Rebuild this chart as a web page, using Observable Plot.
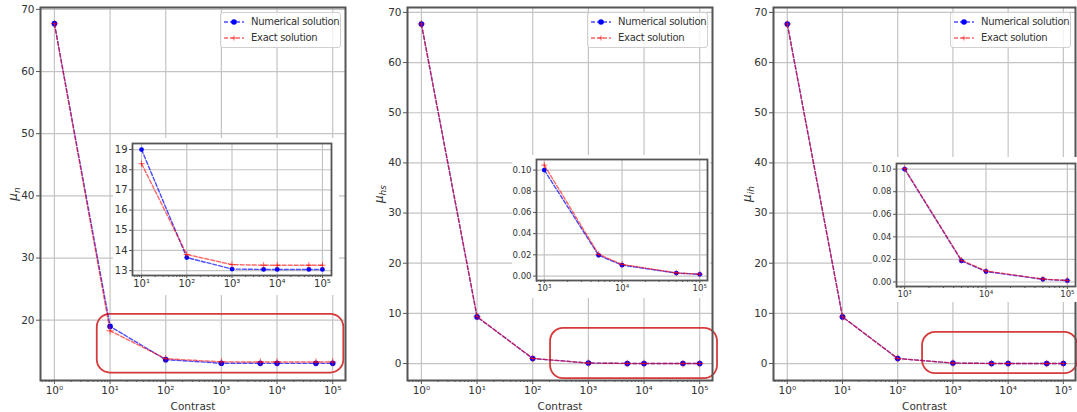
<!DOCTYPE html>
<html><head><meta charset="utf-8">
<script src="https://cdn.jsdelivr.net/npm/d3@7"></script>
<script src="https://cdn.jsdelivr.net/npm/@observablehq/plot@0.6"></script>
<style>
body{margin:0;background:#fff;}
#fig{position:relative;width:1077px;height:412px;overflow:hidden;background:#fff;font-family:"DejaVu Sans",sans-serif;}
#fig > div.p{position:absolute;}
#fig svg{overflow:visible;display:block;}
.legend{position:absolute;background:rgba(255,255,255,0.8);border:1px solid #d0d0d0;border-radius:3px;box-sizing:border-box;padding:1px 3px 1px 3px;font-size:10px;letter-spacing:-0.3px;color:#333;line-height:16px;white-space:nowrap;}
.legend .row{display:flex;align-items:center;}
.legend svg{margin-right:7px;}
</style></head><body><div id="fig"></div><script>
// ---- data ----
const contrast   = [1, 10, 100, 1000, 5000, 10000, 50000, 100000];
const muN_num    = [67.7, 19.0, 13.65, 13.08, 13.06, 13.06, 13.06, 13.06];
const muN_exact  = [67.7, 18.3, 13.8, 13.3, 13.27, 13.27, 13.27, 13.27];
const muHS_num   = [67.7, 9.3, 1.0, 0.100, 0.0196, 0.0103, 0.0028, 0.0016];
const muHS_exact = [67.7, 9.35, 1.02, 0.1047, 0.0205, 0.0110, 0.0030, 0.0018];
const muIH_num   = [67.7, 9.3, 1.0, 0.100, 0.0187, 0.0093, 0.0024, 0.0012];
const muIH_exact = [67.7, 9.3, 1.0, 0.1005, 0.0192, 0.0097, 0.0026, 0.0014];
const seriesNames = ["Numerical solution", "Exact solution"];
const yLabels = [["μ", "n"], ["μ", "hs"], ["μ", "ih"]];
const xLabel = "Contrast";
const mainXTicks = [1, 10, 100, 1000, 10000, 100000];
const mainYTicks1 = [20, 30, 40, 50, 60, 70];
const mainYTicks23 = [0, 10, 20, 30, 40, 50, 60, 70];
const inset1XTicks = [10, 100, 1000, 10000, 100000];
const inset1YTicks = [13, 14, 15, 16, 17, 18, 19];
const inset23XTicks = [1000, 10000, 100000];
const inset23YTicks = [0, 0.02, 0.04, 0.06, 0.08, 0.10];

// ---- helpers ----
const SUP = {"0":"⁰","1":"¹","2":"²","3":"³","4":"⁴","5":"⁵","6":"⁶","7":"⁷","8":"⁸","9":"⁹","-":"⁻"};
const supFmt = d => "10" + String(Math.round(Math.log10(d))).split("").map(c => SUP[c]).join("");
function minorTicks(lo, hi) {
  const out = [];
  for (let e = Math.floor(Math.log10(lo)); e <= Math.ceil(Math.log10(hi)); e++)
    for (let m = 2; m <= 9; m++) { const v = m * 10 ** e; if (v > lo && v < hi) out.push(v); }
  return out;
}
const BLUE = "#0000ff", RED = "#ff0000";
const GRID = "#c4c4c4", FRAME = "#555", TXT = "#333";
function rows(num, exact, from) {
  return contrast.map((c, i) => ({c, num: num[i], exact: exact[i]})).slice(from);
}
function seriesMarks(data, r) {
  return [
    Plot.line(data, {x: "c", y: "num", stroke: BLUE, strokeOpacity: 0.7, strokeWidth: 1.4, strokeDasharray: "4,2"}),
    Plot.dot(data, {x: "c", y: "num", fill: BLUE, r: r, stroke: null}),
    Plot.line(data, {x: "c", y: "exact", stroke: RED, strokeOpacity: 0.6, strokeWidth: 1.4, strokeDasharray: "4,2"}),
    Plot.dot(data, {x: "c", y: "exact", symbol: "plus", stroke: RED, strokeOpacity: 0.6, r: r * 0.9, strokeWidth: 1})
  ];
}

const fig = document.getElementById("fig");
function place(node, left, top) {
  const d = document.createElement("div");
  d.className = "p";
  d.style.left = left + "px"; d.style.top = top + "px";
  d.appendChild(node); fig.appendChild(d);
  return d;
}
function setYLabel(svg, parts) {
  const t = svg.querySelector('[aria-label="y-axis label"] text');
  if (!t) return;
  const sel = d3.select(t);
  sel.text(null).style("font-style", "italic").style("font-size", "12px");
  sel.append("tspan").text(parts[0]);
  sel.append("tspan").attr("dy", "0.3em").style("font-size", "9px").text(parts[1]);
}

function mainPanel(cfg) {
  const data = rows(cfg.num, cfg.exact, 0);
  const svg = Plot.plot({
    width: cfg.width, height: 412,
    marginLeft: cfg.ml, marginRight: cfg.mr, marginTop: 7, marginBottom: 32,
    style: {fontFamily: "DejaVu Sans", fontSize: "10.5px", color: TXT, background: "transparent", overflow: "visible"},
    x: {type: "log", domain: cfg.xdom},
    y: {domain: cfg.ydom},
    marks: [
      Plot.gridX(mainXTicks, {stroke: GRID, strokeOpacity: 1, strokeWidth: 1.2}),
      Plot.gridY(cfg.yticks, {stroke: GRID, strokeOpacity: 1, strokeWidth: 1.2}),
      Plot.axisX(minorTicks(cfg.xdom[0], cfg.xdom[1]), {tickSize: 2, text: null, label: null, stroke: FRAME}),
      Plot.axisX(mainXTicks, {tickSize: 4, tickPadding: 2, tickFormat: supFmt, stroke: FRAME, fill: TXT,
        label: xLabel, labelAnchor: "center", labelOffset: 29, labelArrow: "none"}),
      Plot.axisY(cfg.yticks, {tickSize: 4, tickPadding: 2, stroke: FRAME, fill: TXT,
        label: "μ", labelAnchor: "center", labelOffset: cfg.lo, labelArrow: "none"}),
      Plot.rect([cfg.box], {x1: "x1", x2: "x2", y1: "y1", y2: "y2", rx: 13, ry: 13,
        fill: "none", stroke: "#d63a3a", strokeWidth: 1.8, clip: false}),
      ...seriesMarks(data, 2.8),
      Plot.frame({stroke: FRAME, strokeWidth: 2})
    ]
  });
  setYLabel(svg, cfg.ylab);
  place(svg, cfg.left, 0);
  // legend
  const lg = document.createElement("div");
  lg.className = "legend";
  lg.style.left = (cfg.left + cfg.width - cfg.mr - 125) + "px";
  lg.style.top = "12px"; lg.style.width = "121px";
  seriesNames.forEach((name, i) => {
    const row = document.createElement("div"); row.className = "row";
    const s = d3.create("svg").attr("width", 20).attr("height", 10);
    const col = i === 0 ? BLUE : RED;
    s.append("line").attr("x1", 0).attr("x2", 20).attr("y1", 5).attr("y2", 5)
      .attr("stroke", col).attr("stroke-opacity", i === 0 ? 0.7 : 0.6).attr("stroke-width", 1.4).attr("stroke-dasharray", "4,2");
    if (i === 0) s.append("circle").attr("cx", 10).attr("cy", 5).attr("r", 2.8).attr("fill", BLUE);
    else s.append("path").attr("d", "M7.5,5H12.5M10,2.5V7.5").attr("stroke", RED).attr("stroke-opacity", 0.6);
    row.appendChild(s.node());
    const sp = document.createElement("span"); sp.textContent = name; row.appendChild(sp);
    lg.appendChild(row);
  });
  fig.appendChild(lg);
}

function insetPanel(cfg) {
  const data = rows(cfg.num, cfg.exact, cfg.from);
  const svg = Plot.plot({
    width: cfg.width, height: cfg.height,
    marginLeft: cfg.ml, marginRight: cfg.mr, marginTop: cfg.mt, marginBottom: cfg.mb,
    style: {fontFamily: "DejaVu Sans", fontSize: cfg.fs, color: TXT, background: "#fff", overflow: "visible"},
    x: {type: "log", domain: cfg.xdom},
    y: {domain: cfg.ydom},
    marks: [
      Plot.gridX(cfg.xticks, {stroke: GRID, strokeOpacity: 1, strokeWidth: 1.2}),
      Plot.gridY(cfg.yticks, {stroke: GRID, strokeOpacity: 1, strokeWidth: 1.2}),
      Plot.axisX(minorTicks(cfg.xdom[0], cfg.xdom[1]), {tickSize: 2, text: null, label: null, stroke: FRAME}),
      Plot.axisX(cfg.xticks, {tickSize: 3, tickPadding: 1, tickFormat: supFmt, stroke: FRAME, fill: TXT, label: null}),
      Plot.axisY(cfg.yticks, {tickSize: 3, tickPadding: 2, tickFormat: cfg.yfmt, stroke: FRAME, fill: TXT, label: null}),
      ...seriesMarks(data, 2.4),
      Plot.frame({stroke: FRAME, strokeWidth: 1.8})
    ]
  });
  place(svg, cfg.left, cfg.top);
}

// ---- panels ----
mainPanel({left: 0, width: 355, ml: 40, mr: 10, lo: 32,
  xdom: [10 ** -0.25, 10 ** 5.23], ydom: [10.3, 70.3], yticks: mainYTicks1,
  num: muN_num, exact: muN_exact, ylab: yLabels[0],
  box: {x1: 10 ** 0.77, x2: 10 ** 5.2, y1: 11.5, y2: 20.95}});
mainPanel({left: 360, width: 360, ml: 47, mr: 8, lo: 33,
  xdom: [10 ** -0.25, 10 ** 5.23], ydom: [-3.38, 70.98], yticks: mainYTicks23,
  num: muHS_num, exact: muHS_exact, ylab: yLabels[1],
  box: {x1: 10 ** 2.32, x2: 10 ** 5.32, y1: -3.0, y2: 7.0}});
mainPanel({left: 720, width: 357, ml: 53, mr: 2, lo: 31,
  xdom: [10 ** -0.25, 10 ** 5.22], ydom: [-3.38, 70.98], yticks: mainYTicks23,
  num: muIH_num, exact: muIH_exact, ylab: yLabels[2],
  box: {x1: 10 ** 2.45, x2: 10 ** 5.26, y1: -2.0, y2: 6.2}});

insetPanel({left: 113, top: 138, width: 226, height: 157, ml: 19, mr: 8, mt: 5, mb: 20, fs: "10px",
  xdom: [10 ** 0.8, 10 ** 5.2], ydom: [12.76, 19.3], xticks: inset1XTicks, yticks: inset1YTicks,
  yfmt: d3.format("d"), num: muN_num, exact: muN_exact, from: 1});
insetPanel({left: 512, top: 155, width: 198, height: 143, ml: 24, mr: 3, mt: 4, mb: 18, fs: "8.5px",
  xdom: [10 ** 2.9, 10 ** 5.1], ydom: [-0.0042, 0.110], xticks: inset23XTicks, yticks: inset23YTicks,
  yfmt: d3.format(".2f"), num: muHS_num, exact: muHS_exact, from: 3});
insetPanel({left: 872, top: 157, width: 205, height: 145, ml: 24, mr: 2, mt: 6, mb: 16, fs: "8.5px",
  xdom: [10 ** 2.9, 10 ** 5.1], ydom: [-0.004, 0.105], xticks: inset23XTicks, yticks: inset23YTicks,
  yfmt: d3.format(".2f"), num: muIH_num, exact: muIH_exact, from: 3});
</script></body></html>
